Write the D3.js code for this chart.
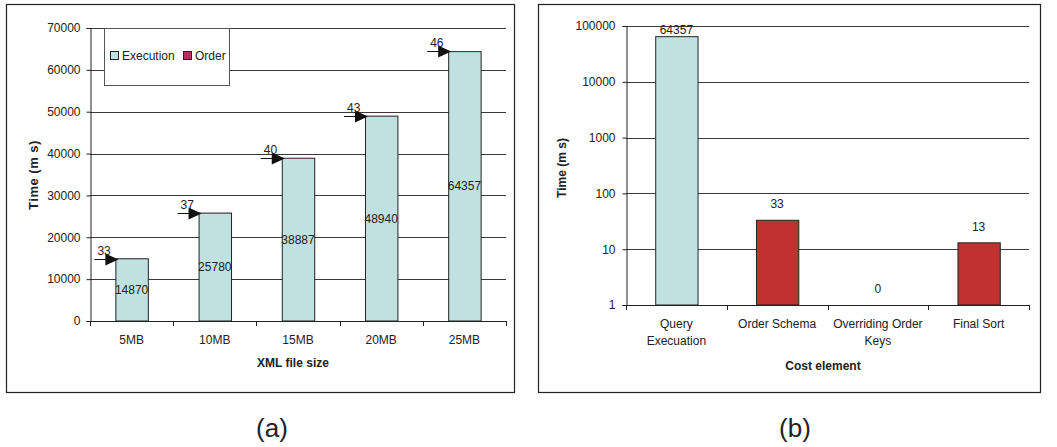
<!DOCTYPE html>
<html>
<head>
<meta charset="utf-8">
<script src="https://cdn.jsdelivr.net/npm/d3@7"></script>
<style>
  html, body { margin: 0; padding: 0; background: #fff; }
  svg { display: block; font-family: "Liberation Sans", Arial, sans-serif; }
  text { fill: #222; }
</style>
</head>
<body>
<svg id="chart" width="1057" height="447"></svg>
<script>
// (a) execution time per XML file size, with the ordering cost on top
const sizes = ["5MB", "10MB", "15MB", "20MB", "25MB"];
const executionMs = [14870, 25780, 38887, 48940, 64357];
const orderMs = [33, 37, 40, 43, 46];
const linearTicks = [0, 10000, 20000, 30000, 40000, 50000, 60000, 70000];

// (b) breakdown of the cost elements for the largest file
const costElements = [["Query", "Execuation"], ["Order Schema"], ["Overriding Order", "Keys"], ["Final Sort"]];
const costMs = [64357, 33, 0, 13];
const costKind = ["execution", "order", "order", "order"];
const logTicks = [1, 10, 100, 1000, 10000, 100000];

const colors = { execution: "#bfe1df", order: "#b0305f", sortBar: "#c0312f" };
const ink = "#222";
const grid = "#3a3a3a";

const svg = d3.select("#chart");

// ---------- panel (a) ----------
const A = { left: 90, right: 506, top: 28, bottom: 321 };
svg.append("rect").attr("x", 6.5).attr("y", 4.5).attr("width", 508).attr("height", 388)
  .attr("fill", "#fff").attr("stroke", ink).attr("stroke-width", 1.2);

const xA = d3.scaleBand().domain(sizes).range([A.left, A.right]).padding(0);
const yA = d3.scaleLinear().domain([0, 70000]).range([A.bottom, A.top]);

const gA = svg.append("g");
gA.selectAll("line.grid").data(linearTicks.filter(d => d > 0)).join("line")
  .attr("x1", A.left).attr("x2", A.right)
  .attr("y1", d => Math.round(yA(d)) + 0.5).attr("y2", d => Math.round(yA(d)) + 0.5)
  .attr("stroke", grid).attr("stroke-width", 1);

// y axis
const axA = gA.append("g").attr("transform", `translate(${A.left + 0.5},0)`)
  .call(d3.axisLeft(yA).tickValues(linearTicks).tickFormat(d3.format("d")).tickSize(4).tickPadding(6));
axA.select(".domain").attr("stroke", ink);
axA.selectAll(".tick line").attr("stroke", ink);
axA.selectAll("text").attr("font-size", 12).attr("fill", ink).attr("font-family", null);

// bars
const barWA = xA.bandwidth() * 0.39;
const barXA = d => xA(d) + (xA.bandwidth() - barWA) / 2;
gA.selectAll("rect.exec").data(sizes).join("rect")
  .attr("x", d => barXA(d) + 0.5)
  .attr("y", (d, i) => yA(executionMs[i]))
  .attr("width", barWA)
  .attr("height", (d, i) => yA(0) - yA(executionMs[i]))
  .attr("fill", colors.execution).attr("stroke", ink).attr("stroke-width", 1);
// order cost stacked on top of execution
gA.selectAll("rect.order").data(sizes).join("rect")
  .attr("x", d => barXA(d) + 0.5)
  .attr("y", (d, i) => yA(executionMs[i] + orderMs[i]))
  .attr("width", barWA)
  .attr("height", (d, i) => yA(executionMs[i]) - yA(executionMs[i] + orderMs[i]))
  .attr("fill", colors.order);

// value labels in the middle of each bar
gA.selectAll("text.val").data(sizes).join("text")
  .attr("x", d => barXA(d) + barWA / 2)
  .attr("y", (d, i) => yA(executionMs[i] / 2) + 4)
  .attr("text-anchor", "middle").attr("font-size", 12)
  .text((d, i) => executionMs[i]);

// order cost callouts: arrow pointing at the top of each bar
sizes.forEach((s, i) => {
  const bx = barXA(s);
  const by = Math.round(yA(executionMs[i] + orderMs[i])) + 0.5;
  gA.append("line").attr("x1", bx - 21).attr("x2", bx - 6).attr("y1", by).attr("y2", by)
    .attr("stroke", "#111").attr("stroke-width", 1);
  gA.append("path")
    .attr("d", `M${bx - 10},${by - 6}L${bx + 3},${by}L${bx - 10},${by + 6}Z`)
    .attr("fill", "#111");
  gA.append("text").attr("x", bx - 18).attr("y", by - 5).attr("font-size", 12).text(orderMs[i]);
});

// x axis with ticks at band edges
gA.append("line").attr("x1", A.left).attr("x2", A.right + 1)
  .attr("y1", A.bottom + 0.5).attr("y2", A.bottom + 0.5).attr("stroke", ink);
const edgesA = sizes.map(d => xA(d)).concat([A.right]);
gA.selectAll("line.xt").data(edgesA).join("line")
  .attr("x1", d => Math.round(d) + 0.5).attr("x2", d => Math.round(d) + 0.5)
  .attr("y1", A.bottom).attr("y2", A.bottom + 5).attr("stroke", ink);
gA.selectAll("text.xl").data(sizes).join("text")
  .attr("x", d => xA(d) + xA.bandwidth() / 2).attr("y", A.bottom + 23)
  .attr("text-anchor", "middle").attr("font-size", 12).text(d => d);

gA.append("text").attr("x", 293).attr("y", 367).attr("text-anchor", "middle")
  .attr("font-size", 12).attr("font-weight", "bold").text("XML file size");
gA.append("text").attr("transform", "translate(38,175) rotate(-90)").attr("text-anchor", "middle")
  .attr("font-size", 13).attr("letter-spacing", 0.5).attr("font-weight", "bold").text("Time (m s)");

// legend
const lg = gA.append("g");
lg.append("rect").attr("x", 104.5).attr("y", 28.5).attr("width", 125).attr("height", 57)
  .attr("fill", "#fff").attr("stroke", "#555");
const legendItems = [["Execution", colors.execution, 110], ["Order", colors.order, 183]];
legendItems.forEach(([name, c, x]) => {
  lg.append("rect").attr("x", x + 0.5).attr("y", 51.5).attr("width", 8).attr("height", 8)
    .attr("fill", c).attr("stroke", ink);
  lg.append("text").attr("x", x + 12).attr("y", 60).attr("font-size", 12).text(name);
});

// ---------- panel (b) ----------
const B = { left: 626, right: 1029, top: 26, bottom: 305 };
svg.append("rect").attr("x", 538.5).attr("y", 4.5).attr("width", 502).attr("height", 388)
  .attr("fill", "#fff").attr("stroke", ink).attr("stroke-width", 1.2);

const keysB = costElements.map(d => d.join(" "));
const xB = d3.scaleBand().domain(keysB).range([B.left, B.right]).padding(0);
const yB = d3.scaleLog().domain([1, 100000]).range([B.bottom, B.top]);

const gB = svg.append("g");
gB.selectAll("line.grid").data(logTicks.filter(d => d > 1)).join("line")
  .attr("x1", B.left).attr("x2", B.right)
  .attr("y1", d => Math.round(yB(d)) + 0.5).attr("y2", d => Math.round(yB(d)) + 0.5)
  .attr("stroke", grid).attr("stroke-width", 1);

const axB = gB.append("g").attr("transform", `translate(${B.left + 0.5},0)`)
  .call(d3.axisLeft(yB).tickValues(logTicks).tickFormat(d3.format("d")).tickSize(4).tickPadding(7));
axB.select(".domain").attr("stroke", ink);
axB.selectAll(".tick line").attr("stroke", ink);
axB.selectAll("text").attr("font-size", 12).attr("fill", ink).attr("font-family", null);

const barWB = xB.bandwidth() * 0.42;
const barXB = d => xB(d) + (xB.bandwidth() - barWB) / 2;
const yVal = v => yB(Math.max(v, 1));
gB.selectAll("rect.bar").data(keysB).join("rect")
  .attr("x", d => barXB(d) + 0.5)
  .attr("y", (d, i) => yVal(costMs[i]))
  .attr("width", barWB)
  .attr("height", (d, i) => B.bottom - yVal(costMs[i]))
  .attr("fill", (d, i) => costKind[i] === "execution" ? colors.execution : colors.sortBar)
  .attr("stroke", (d, i) => costMs[i] > 1 ? ink : "none").attr("stroke-width", 1);

gB.selectAll("text.val").data(keysB).join("text")
  .attr("x", d => barXB(d) + barWB / 2)
  .attr("y", (d, i) => Math.max(yVal(costMs[i]) - 16, B.top + 4) + 4)
  .attr("text-anchor", "middle").attr("font-size", 12)
  .text((d, i) => costMs[i]);

gB.append("line").attr("x1", B.left).attr("x2", B.right + 1)
  .attr("y1", B.bottom + 0.5).attr("y2", B.bottom + 0.5).attr("stroke", ink);
const edgesB = keysB.map(d => xB(d)).concat([B.right]);
gB.selectAll("line.xt").data(edgesB).join("line")
  .attr("x1", d => Math.round(d) + 0.5).attr("x2", d => Math.round(d) + 0.5)
  .attr("y1", B.bottom).attr("y2", B.bottom + 5).attr("stroke", ink);
costElements.forEach((lines, i) => {
  const t = gB.append("text").attr("x", xB(keysB[i]) + xB.bandwidth() / 2).attr("y", B.bottom + 23)
    .attr("text-anchor", "middle").attr("font-size", 12);
  lines.forEach((ln, j) => t.append("tspan").attr("x", xB(keysB[i]) + xB.bandwidth() / 2)
    .attr("dy", j === 0 ? 0 : 17).text(ln));
});

gB.append("text").attr("x", 823).attr("y", 370).attr("text-anchor", "middle")
  .attr("font-size", 12).attr("font-weight", "bold").text("Cost element");
gB.append("text").attr("transform", "translate(566,168) rotate(-90)").attr("text-anchor", "middle")
  .attr("font-size", 12).attr("font-weight", "bold").text("Time (m s)");

// panel captions
svg.append("text").attr("x", 272).attr("y", 437).attr("text-anchor", "middle")
  .attr("font-size", 26).text("(a)");
svg.append("text").attr("x", 795).attr("y", 437).attr("text-anchor", "middle")
  .attr("font-size", 26).text("(b)");
</script>
</body>
</html>
